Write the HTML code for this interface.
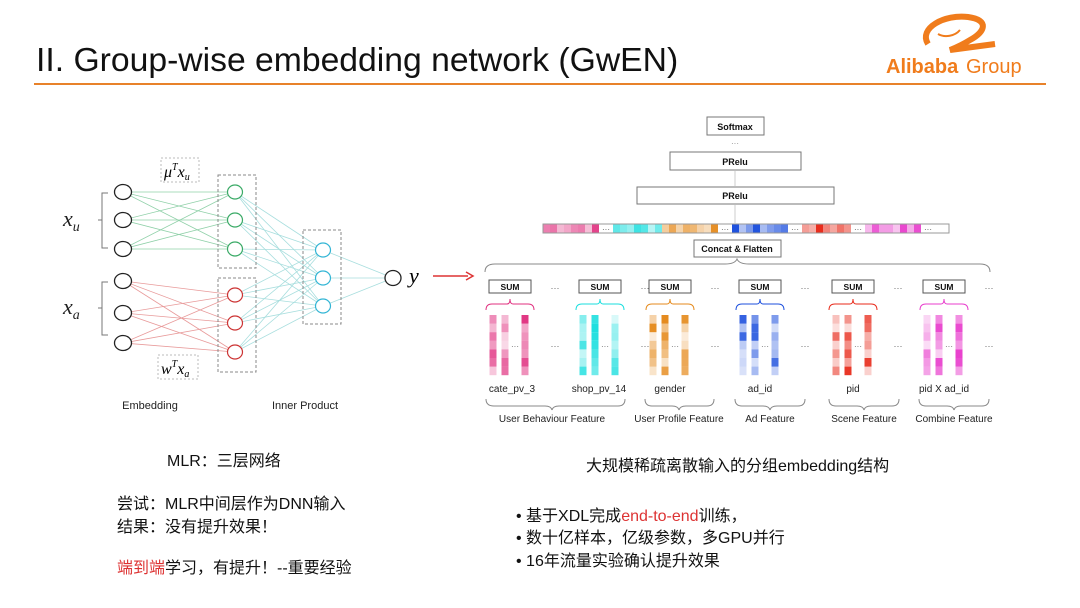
<!DOCTYPE html>
<html><head><meta charset="utf-8"><style>
body{margin:0;background:#fff;width:1080px;height:608px;overflow:hidden;font-family:"Liberation Sans","Noto Sans CJK SC",sans-serif}
svg{position:absolute;left:0;top:0}
.t{font-family:"Liberation Sans","Noto Sans CJK SC",sans-serif}
.m{font-family:"Liberation Serif",serif;font-style:italic}
</style></head><body>
<svg id="s" width="1080" height="608" viewBox="0 0 1080 608">
<text x="36" y="71" class="t" font-size="33.7" fill="#111">II. Group-wise embedding network (GwEN)</text>
<line x1="34" y1="84" x2="1046" y2="84" stroke="#e8822a" stroke-width="2"/>
<path d="M928 44 C918 28 945 14 968 17 C990 20 985 32 970 40 C962 45 955 48 950 50 L995 44" fill="none" stroke="#f07c1c" stroke-width="6"/>
<path d="M938 34 C945 38 955 36 960 30" fill="none" stroke="#f07c1c" stroke-width="2"/>
<text x="886" y="73" font-size="20" font-weight="bold" fill="#f07c1c" class="t">Alibaba</text>
<text x="966" y="73" font-size="20" fill="#f07c1c" class="t">Group</text>
<g id="net"></g>
<text x="63" y="226" class="m" font-size="22" fill="#222">x<tspan font-size="14" dy="5">u</tspan></text>
<text x="63" y="314" class="m" font-size="22" fill="#222">x<tspan font-size="14" dy="5">a</tspan></text>
<path d="M108 193 H102 V248 H108 M102 220 H98" fill="none" stroke="#777"/>
<path d="M108 282 H102 V335 H108 M102 308 H98" fill="none" stroke="#777"/>
<rect x="161" y="158" width="38" height="24" fill="none" stroke="#bbb" stroke-dasharray="2,2"/>
<text x="164" y="177" class="m" font-size="16">μ<tspan font-size="10" dy="-7">T</tspan><tspan dy="7">x</tspan><tspan font-size="10" dy="3">u</tspan></text>
<rect x="158" y="355" width="40" height="24" fill="none" stroke="#bbb" stroke-dasharray="2,2"/>
<text x="161" y="374" class="m" font-size="16">w<tspan font-size="10" dy="-7">T</tspan><tspan dy="7">x</tspan><tspan font-size="10" dy="3">a</tspan></text>
<text x="409" y="283" class="m" font-size="22">y</text>
<line x1="433" y1="276" x2="468" y2="276" stroke="#d33" stroke-width="1.5"/>
<path d="M466 272 L473 276 L466 280" fill="none" stroke="#d33" stroke-width="1.5"/>
<text x="150" y="409" text-anchor="middle" font-size="11" class="t" fill="#222">Embedding</text>
<text x="305" y="409" text-anchor="middle" font-size="11" class="t" fill="#222">Inner Product</text>
<g stroke="#777" fill="#fff">
<rect x="707" y="117" width="57" height="18"/><rect x="670" y="152" width="131" height="18"/>
<rect x="637" y="187" width="197" height="17"/><rect x="694" y="240" width="87" height="17"/>
</g>
<g font-size="9" font-weight="bold" text-anchor="middle" class="t" fill="#111">
<text x="735" y="130">Softmax</text><text x="735" y="165">PRelu</text><text x="735" y="199">PRelu</text><text x="737" y="252">Concat &amp; Flatten</text>
</g>
<text x="735" y="146" font-size="8" text-anchor="middle" fill="#888">···</text>
<line x1="735" y1="171" x2="735" y2="186" stroke="#ccc"/><line x1="735" y1="205" x2="735" y2="223" stroke="#ccc"/>
<g id="bar"></g>
<rect x="543" y="224" width="406" height="9" fill="none" stroke="#999"/>
<path d="M485 272 Q485 264 495 264 L725 264 Q735 264 737 259 Q739 264 749 264 L980 264 Q990 264 990 272" fill="none" stroke="#888"/>
<g id="grp"></g>
<g font-size="10" text-anchor="middle" class="t" fill="#222">
<text x="512" y="392">cate_pv_3</text><text x="599" y="392">shop_pv_14</text><text x="670" y="392">gender</text><text x="760" y="392">ad_id</text><text x="853" y="392">pid</text><text x="944" y="392">pid X ad_id</text>
<text x="552" y="422">User Behaviour Feature</text><text x="679" y="422">User Profile Feature</text><text x="770" y="422">Ad Feature</text><text x="864" y="422">Scene Feature</text><text x="954" y="422">Combine Feature</text>
</g>
<g fill="none" stroke="#888">
<path d="M486 399 Q486 406 494 406 L545 406 Q551 406 552 410 Q553 406 559 406 L618 406 Q625 406 625 399"/>
<path d="M645 399 Q645 406 652 406 L672 406 Q678 406 679 410 Q680 406 686 406 L707 406 Q714 406 714 399"/>
<path d="M735 399 Q735 406 742 406 L763 406 Q769 406 770 410 Q771 406 777 406 L798 406 Q805 406 805 399"/>
<path d="M829 399 Q829 406 836 406 L857 406 Q863 406 864 410 Q865 406 871 406 L892 406 Q899 406 899 399"/>
<path d="M919 399 Q919 406 926 406 L947 406 Q953 406 954 410 Q955 406 961 406 L982 406 Q989 406 989 399"/>
</g>
<g font-size="16" class="t" fill="#111">
<text x="167" y="466">MLR：三层网络</text>
<text x="117" y="509">尝试：MLR中间层作为DNN输入</text>
<text x="117" y="532">结果：没有提升效果！</text>
<text x="117" y="573"><tspan fill="#d33">端到端</tspan>学习，有提升！--重要经验</text>
<text x="586" y="471">大规模稀疏离散输入的分组embedding结构</text>
<text x="516" y="521">•  基于XDL完成<tspan fill="#d33">end-to-end</tspan>训练，</text>
<text x="516" y="543">•  数十亿样本，亿级参数，多GPU并行</text>
<text x="516" y="566">•  16年流量实验确认提升效果</text>
</g>
</svg>
<script>
var NS="http://www.w3.org/2000/svg";
function el(p,t,a,txt){var e=document.createElementNS(NS,t);for(var k in a)e.setAttribute(k,a[k]);if(txt)e.textContent=txt;p.appendChild(e);return e;}
var net=document.getElementById('net');
var inY=[192,220,249,281,313,343],gY=[192,220,249],rY=[295,323,352],cY=[250,278,306];
gY.forEach(function(b){[192,220,249].forEach(function(a){el(net,'line',{x1:123,y1:a,x2:235,y2:b,stroke:'#8fd0a8','stroke-width':0.8});});});
rY.forEach(function(b){[281,313,343].forEach(function(a){el(net,'line',{x1:123,y1:a,x2:235,y2:b,stroke:'#e89a9a','stroke-width':0.8});});});
gY.concat(rY).forEach(function(a){cY.forEach(function(b){el(net,'line',{x1:235,y1:a,x2:323,y2:b,stroke:'#a8dede','stroke-width':0.8});});});
cY.forEach(function(a){el(net,'line',{x1:323,y1:a,x2:393,y2:278,stroke:'#a8dede','stroke-width':0.8});});
el(net,'rect',{x:218,y:175,width:38,height:93,fill:'none',stroke:'#888','stroke-dasharray':'3,2'});
el(net,'rect',{x:218,y:278,width:38,height:94,fill:'none',stroke:'#888','stroke-dasharray':'3,2'});
el(net,'rect',{x:303,y:230,width:38,height:94,fill:'none',stroke:'#888','stroke-dasharray':'3,2'});
inY.forEach(function(y){el(net,'ellipse',{cx:123,cy:y,rx:8.5,ry:7.5,fill:'#fff',stroke:'#222','stroke-width':1.3});});
gY.forEach(function(y){el(net,'ellipse',{cx:235,cy:y,rx:7.5,ry:7,fill:'#fff',stroke:'#3aaa66','stroke-width':1.2});});
rY.forEach(function(y){el(net,'ellipse',{cx:235,cy:y,rx:7.5,ry:7,fill:'#fff',stroke:'#cc3333','stroke-width':1.2});});
cY.forEach(function(y){el(net,'ellipse',{cx:323,cy:y,rx:7.5,ry:7,fill:'#fff',stroke:'#33b5d5','stroke-width':1.2});});
el(net,'ellipse',{cx:393,cy:278,rx:8,ry:7.5,fill:'#fff',stroke:'#222','stroke-width':1.3});
var cols=['#e0307f','#18dede','#e58a1c','#1c4fdd','#e82a1a','#e83ccc'];
var rnd=(function(){var s=7;return function(){s=(s*9301+49297)%233280;return s/233280;};})();
var bar=document.getElementById('bar');var x=543;
var segs=[[0,8],[1,7],[2,8],[3,8],[4,7],[5,8]];
segs.forEach(function(sg,i){for(var k=0;k<sg[1];k++){el(bar,'rect',{x:x,y:224,width:7,height:9,fill:cols[sg[0]],opacity:(0.25+rnd()*0.75).toFixed(2)});x+=7;}
 if(i!=1){el(bar,'text',{x:x+7,y:232,'font-size':8,'text-anchor':'middle',fill:'#555'},'···');x+=14;}});
var grp=document.getElementById('grp');
var cx=[510,600,670,760,853,944];
cx.forEach(function(c,i){
 el(grp,'rect',{x:c-21,y:280,width:42,height:13,fill:'#fff',stroke:'#555'});
 el(grp,'text',{x:c,y:290,'font-size':8.5,'font-weight':'bold','text-anchor':'middle',fill:'#111'},'SUM');
 el(grp,'text',{x:c+45,y:291,'font-size':9,'text-anchor':'middle',fill:'#666'},'···');
 el(grp,'path',{d:'M'+(c-24)+' 310 Q'+(c-24)+' 304 '+(c-18)+' 304 L'+(c-3)+' 304 Q'+c+' 304 '+c+' 299 Q'+c+' 304 '+(c+3)+' 304 L'+(c+18)+' 304 Q'+(c+24)+' 304 '+(c+24)+' 310',fill:'none',stroke:cols[i],'stroke-width':1});
 [-17,-5,15].forEach(function(o){for(var r=0;r<7;r++){el(grp,'rect',{x:c+o-3.5,y:315+r*8.6,width:7,height:8.6,fill:cols[i],opacity:(0.15+rnd()*0.85).toFixed(2)});}});
 el(grp,'text',{x:c+5,y:349,'font-size':8,'text-anchor':'middle',fill:'#666'},'···');
 el(grp,'text',{x:c+45,y:349,'font-size':9,'text-anchor':'middle',fill:'#666'},'···');
});
</script>
</body></html>
